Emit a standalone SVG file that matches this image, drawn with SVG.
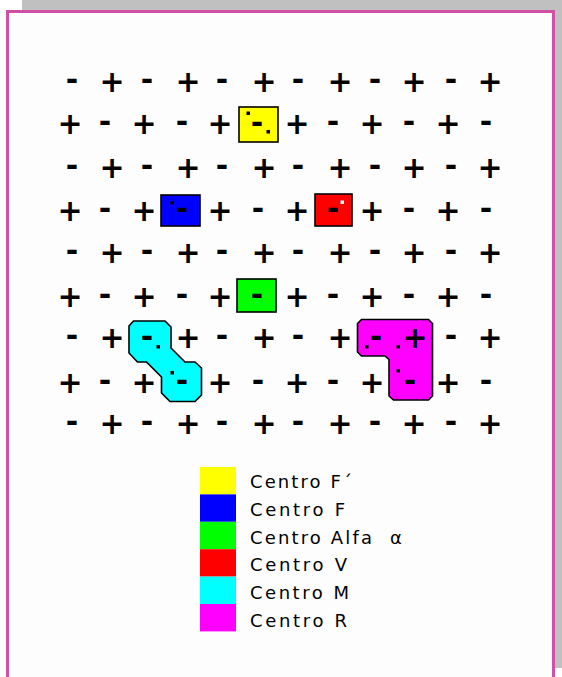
<svg xmlns="http://www.w3.org/2000/svg" width="562" height="677" viewBox="0 0 562 677">
<style>
.p{font-family:"DejaVu Sans",Verdana,sans-serif;font-weight:bold;font-size:30px;text-anchor:middle;fill:#000}
.lg{font-family:"DejaVu Sans",Verdana,sans-serif;font-size:18px;fill:#000}
.box{stroke:#000;stroke-width:1.6}
.dot{fill:#000}
</style>
<rect x="0" y="0" width="562" height="677" fill="#FFFFFF"/>
<rect x="22" y="0" width="540" height="668" fill="#C0C0C0"/>
<rect x="7.5" y="11.5" width="546" height="700" fill="#FDFDFD" stroke="#D050A8" stroke-width="3"/>

<g id="row1">
<text class="p" x="72" y="90">-</text><text class="p" x="112" y="92">+</text><text class="p" x="147" y="90">-</text><text class="p" x="188" y="92">+</text><text class="p" x="222" y="90">-</text><text class="p" x="264" y="92">+</text><text class="p" x="298" y="90">-</text><text class="p" x="340" y="92">+</text><text class="p" x="375" y="90">-</text><text class="p" x="414" y="92">+</text><text class="p" x="451" y="90">-</text><text class="p" x="490" y="92">+</text>
</g>
<g id="row2">
<text class="p" x="70" y="134">+</text><text class="p" x="105" y="132">-</text><text class="p" x="144" y="134">+</text><text class="p" x="182" y="132">-</text><text class="p" x="220" y="134">+</text><text class="p" x="297" y="134">+</text><text class="p" x="333" y="132">-</text><text class="p" x="372" y="134">+</text><text class="p" x="409" y="132">-</text><text class="p" x="448" y="134">+</text><text class="p" x="486" y="132">-</text>
</g>
<g id="row3">
<text class="p" x="72" y="176">-</text><text class="p" x="112" y="178">+</text><text class="p" x="147" y="176">-</text><text class="p" x="188" y="178">+</text><text class="p" x="222" y="176">-</text><text class="p" x="264" y="178">+</text><text class="p" x="298" y="176">-</text><text class="p" x="340" y="178">+</text><text class="p" x="375" y="176">-</text><text class="p" x="414" y="178">+</text><text class="p" x="451" y="176">-</text><text class="p" x="490" y="178">+</text>
</g>
<g id="row4">
<text class="p" x="70" y="221">+</text><text class="p" x="105" y="219">-</text><text class="p" x="144" y="221">+</text><text class="p" x="220" y="221">+</text><text class="p" x="258" y="219">-</text><text class="p" x="297" y="221">+</text><text class="p" x="372" y="221">+</text><text class="p" x="409" y="219">-</text><text class="p" x="448" y="221">+</text><text class="p" x="486" y="219">-</text>
</g>
<g id="row5">
<text class="p" x="72" y="261">-</text><text class="p" x="112" y="263">+</text><text class="p" x="147" y="261">-</text><text class="p" x="188" y="263">+</text><text class="p" x="222" y="261">-</text><text class="p" x="264" y="263">+</text><text class="p" x="298" y="261">-</text><text class="p" x="340" y="263">+</text><text class="p" x="375" y="261">-</text><text class="p" x="414" y="263">+</text><text class="p" x="451" y="261">-</text><text class="p" x="490" y="263">+</text>
</g>
<g id="row6">
<text class="p" x="70" y="307">+</text><text class="p" x="105" y="305">-</text><text class="p" x="144" y="307">+</text><text class="p" x="182" y="305">-</text><text class="p" x="220" y="307">+</text><text class="p" x="297" y="307">+</text><text class="p" x="333" y="305">-</text><text class="p" x="372" y="307">+</text><text class="p" x="409" y="305">-</text><text class="p" x="448" y="307">+</text><text class="p" x="486" y="305">-</text>
</g>
<g id="row7">
<text class="p" x="72" y="346">-</text><text class="p" x="112" y="348">+</text><text class="p" x="188" y="348">+</text><text class="p" x="222" y="346">-</text><text class="p" x="264" y="348">+</text><text class="p" x="298" y="346">-</text><text class="p" x="340" y="348">+</text><text class="p" x="451" y="346">-</text><text class="p" x="490" y="348">+</text>
</g>
<g id="row8">
<text class="p" x="70" y="393">+</text><text class="p" x="105" y="391">-</text><text class="p" x="144" y="393">+</text><text class="p" x="220" y="393">+</text><text class="p" x="258" y="391">-</text><text class="p" x="297" y="393">+</text><text class="p" x="333" y="391">-</text><text class="p" x="372" y="393">+</text><text class="p" x="448" y="393">+</text><text class="p" x="486" y="391">-</text>
</g>
<g id="row9">
<text class="p" x="72" y="432">-</text><text class="p" x="112" y="434">+</text><text class="p" x="147" y="432">-</text><text class="p" x="188" y="434">+</text><text class="p" x="222" y="432">-</text><text class="p" x="264" y="434">+</text><text class="p" x="298" y="432">-</text><text class="p" x="340" y="434">+</text><text class="p" x="375" y="432">-</text><text class="p" x="414" y="434">+</text><text class="p" x="451" y="432">-</text><text class="p" x="490" y="434">+</text>
</g>

<g id="centro-f-prime">
<rect class="box" x="239" y="107" width="39" height="35" fill="#FFFF00"/>
<rect class="dot" x="246.5" y="111.5" width="3.5" height="3.5"/>
<text class="p" x="257" y="133">-</text>
<rect class="dot" x="266.5" y="130" width="3.5" height="3.5"/>
</g>
<g id="centro-f">
<rect class="box" x="161" y="195" width="39" height="31" fill="#0000FF"/>
<rect class="dot" x="170.5" y="201" width="3.5" height="3.5"/>
<text class="p" x="182" y="219">-</text>
</g>
<g id="centro-v">
<rect class="box" x="315" y="194" width="37" height="32" fill="#FF0000"/>
<text class="p" x="333" y="219">-</text>
<rect x="340.5" y="200.5" width="3.5" height="3.5" fill="#FFFFFF"/>
</g>
<g id="centro-alfa">
<rect class="box" x="237" y="279" width="39" height="33" fill="#00FF00"/>
<text class="p" x="257" y="305">-</text>
</g>
<g id="centro-m">
<polygon class="box" fill="#00FFFF" points="129,326 133.5,321 165,321 171,327 171,348 185,362 195,362 201.5,368 201.5,395 195,401.5 170,401.5 161.5,393 161.5,377 146.5,362 137.5,362 129,353"/>
<text class="p" x="147" y="347">-</text>
<rect class="dot" x="156.5" y="345" width="3.5" height="3.5"/>
<rect class="dot" x="170.5" y="371" width="3.5" height="3.5"/>
<text class="p" x="182" y="391">-</text>
</g>
<g id="centro-r">
<polygon class="box" fill="#FF00FF" points="361.5,319.5 428.5,319.5 432.5,323.5 432.5,396 428.5,400 393.5,400 389,396 389,359.5 385,356 361.5,356 357.5,352 357.5,323.5"/>
<rect class="dot" x="365" y="345" width="3.5" height="3.5"/>
<text class="p" x="376" y="347">-</text>
<rect class="dot" x="396.5" y="345" width="3.5" height="3.5"/>
<text class="p" x="415" y="348">+</text>
<rect class="dot" x="396.5" y="369" width="3.5" height="3.5"/>
<text class="p" x="410" y="391">-</text>
</g>

<g id="legend">
<rect x="200" y="467" width="36" height="27.4" fill="#FFFF00"/>
<rect x="200" y="494.4" width="36" height="27.4" fill="#0000FF"/>
<rect x="200" y="521.8" width="36" height="27.4" fill="#00FF00"/>
<rect x="200" y="549.2" width="36" height="27.4" fill="#FF0000"/>
<rect x="200" y="576.6" width="36" height="27.4" fill="#00FFFF"/>
<rect x="200" y="604" width="36" height="27.4" fill="#FF00FF"/>
<text class="lg" x="250" y="488" textLength="102" lengthAdjust="spacing">Centro F´</text>
<text class="lg" x="250" y="516" textLength="95" lengthAdjust="spacing">Centro F</text>
<text class="lg" x="250" y="544"><tspan textLength="122" lengthAdjust="spacing">Centro Alfa</tspan><tspan x="390">α</tspan></text>
<text class="lg" x="250" y="571" textLength="97" lengthAdjust="spacing">Centro V</text>
<text class="lg" x="250" y="599" textLength="99" lengthAdjust="spacing">Centro M</text>
<text class="lg" x="250" y="627" textLength="97" lengthAdjust="spacing">Centro R</text>
</g>
</svg>
